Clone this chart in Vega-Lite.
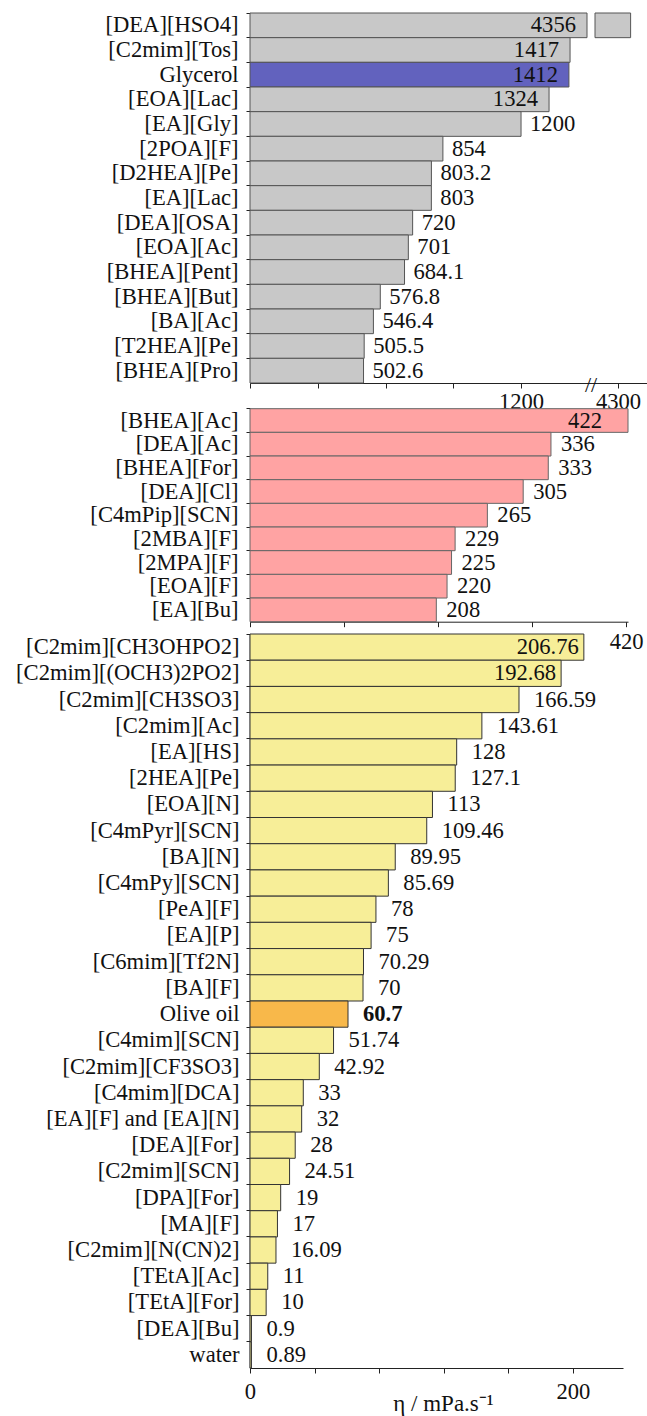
{
  "$schema": "https://vega.github.io/schema/vega-lite/v6.json",
  "background": "white",
  "autosize": {"type": "pad"},
  "padding": {"left": 15, "top": 12, "right": 0, "bottom": 0},
  "bounds": "flush",
  "spacing": 12,
  "config": {
    "view": {"stroke": null},
    "font": "Times New Roman, Liberation Serif, serif",
    "axis": {"labelFont": "Times New Roman, Liberation Serif, serif", "labelFontSize": 22.6, "labelColor": "#111", "tickColor": "#222", "domainColor": "#222", "titleFont": "Times New Roman, Liberation Serif, serif", "grid": false, "labelFlush": false, "labelOverlap": false, "labelLimit": 400},
    "text": {"font": "Times New Roman, Liberation Serif, serif", "fontSize": 22.6, "color": "#111", "baseline": "middle"}
  },
  "datasets": {
    "p1": [
      {"name": "[DEA][HSO4]", "value": 4356, "lo": 0, "hi": 1492},
      {"name": "[DEA][HSO4]", "value": 4356, "lo": 4198, "hi": 4356},
      {"name": "[C2mim][Tos]", "value": 1417, "lo": 0, "hi": 1417},
      {"name": "Glycerol", "value": 1412, "lo": 0, "hi": 1412},
      {"name": "[EOA][Lac]", "value": 1324, "lo": 0, "hi": 1324},
      {"name": "[EA][Gly]", "value": 1200, "lo": 0, "hi": 1200},
      {"name": "[2POA][F]", "value": 854, "lo": 0, "hi": 854},
      {"name": "[D2HEA][Pe]", "value": 803.2, "lo": 0, "hi": 803.2},
      {"name": "[EA][Lac]", "value": 803, "lo": 0, "hi": 803},
      {"name": "[DEA][OSA]", "value": 720, "lo": 0, "hi": 720},
      {"name": "[EOA][Ac]", "value": 701, "lo": 0, "hi": 701},
      {"name": "[BHEA][Pent]", "value": 684.1, "lo": 0, "hi": 684.1},
      {"name": "[BHEA][But]", "value": 576.8, "lo": 0, "hi": 576.8},
      {"name": "[BA][Ac]", "value": 546.4, "lo": 0, "hi": 546.4},
      {"name": "[T2HEA][Pe]", "value": 505.5, "lo": 0, "hi": 505.5},
      {"name": "[BHEA][Pro]", "value": 502.6, "lo": 0, "hi": 502.6}
    ],
    "p2": [
      {"name": "[BHEA][Ac]", "value": 422},
      {"name": "[DEA][Ac]", "value": 336},
      {"name": "[BHEA][For]", "value": 333},
      {"name": "[DEA][Cl]", "value": 305},
      {"name": "[C4mPip][SCN]", "value": 265},
      {"name": "[2MBA][F]", "value": 229},
      {"name": "[2MPA][F]", "value": 225},
      {"name": "[EOA][F]", "value": 220},
      {"name": "[EA][Bu]", "value": 208}
    ],
    "p3": [
      {"name": "[C2mim][CH3OHPO2]", "value": 206.76},
      {"name": "[C2mim][(OCH3)2PO2]", "value": 192.68},
      {"name": "[C2mim][CH3SO3]", "value": 166.59},
      {"name": "[C2mim][Ac]", "value": 143.61},
      {"name": "[EA][HS]", "value": 128},
      {"name": "[2HEA][Pe]", "value": 127.1},
      {"name": "[EOA][N]", "value": 113},
      {"name": "[C4mPyr][SCN]", "value": 109.46},
      {"name": "[BA][N]", "value": 89.95},
      {"name": "[C4mPy][SCN]", "value": 85.69},
      {"name": "[PeA][F]", "value": 78},
      {"name": "[EA][P]", "value": 75},
      {"name": "[C6mim][Tf2N]", "value": 70.29},
      {"name": "[BA][F]", "value": 70},
      {"name": "Olive oil", "value": 60.7},
      {"name": "[C4mim][SCN]", "value": 51.74},
      {"name": "[C2mim][CF3SO3]", "value": 42.92},
      {"name": "[C4mim][DCA]", "value": 33},
      {"name": "[EA][F] and [EA][N]", "value": 32},
      {"name": "[DEA][For]", "value": 28},
      {"name": "[C2mim][SCN]", "value": 24.51},
      {"name": "[DPA][For]", "value": 19},
      {"name": "[MA][F]", "value": 17},
      {"name": "[C2mim][N(CN)2]", "value": 16.09},
      {"name": "[TEtA][Ac]", "value": 11},
      {"name": "[TEtA][For]", "value": 10},
      {"name": "[DEA][Bu]", "value": 0.9},
      {"name": "water", "value": 0.89}
    ]
  },
  "vconcat": [
    {
      "width": 400,
      "height": 370,
      "data": {"name": "p1"},
      "layer": [
        {
          "mark": {"type": "bar", "stroke": "#555", "strokeWidth": 1},
          "encoding": {
            "y": {"field": "name", "type": "nominal", "sort": null, "scale": {"paddingInner": 0, "paddingOuter": 0}, "axis": {"title": null, "bandPosition": 0, "tickSize": 4, "labelPadding": 8}},
            "x": {"field": "lo", "type": "quantitative", "scale": {"domain": [0, 1492, 4198, 4442], "range": [0, 337, 345, 400], "nice": false, "zero": false}, "axis": {"title": null, "values": [0, 300, 600, 900, 1200, 4300], "format": "d", "labelExpr": "(datum.value == 1200 || datum.value == 4300) ? datum.label : ''", "tickSize": 5, "labelPadding": 2}},
            "x2": {"field": "hi"},
            "color": {"condition": {"test": "datum.name === 'Glycerol'", "value": "#6262BE"}, "value": "#C8C8C8"}
          }
        },
        {
          "transform": [{"filter": "datum.lo == 0 && datum.value < 1300"}],
          "mark": {"type": "text", "align": "left", "dx": 9},
          "encoding": {
            "y": {"field": "name", "type": "nominal", "sort": null},
            "x": {"field": "hi", "type": "quantitative"},
            "text": {"field": "value", "type": "nominal"}
          }
        },
        {
          "transform": [{"filter": "datum.lo == 0 && datum.value >= 1300"}],
          "mark": {"type": "text", "align": "right", "dx": -11},
          "encoding": {
            "y": {"field": "name", "type": "nominal", "sort": null},
            "x": {"field": "hi", "type": "quantitative"},
            "text": {"field": "value", "type": "nominal"}
          }
        },
        {
          "data": {"values": [{}]},
          "mark": {"type": "text", "fontSize": 22, "align": "center", "dy": 2},
          "encoding": {
            "x": {"datum": 2845, "type": "quantitative"},
            "y": {"datum": "[BHEA][Pro]", "type": "nominal", "bandPosition": 1},
            "text": {"value": "//"}
          }
        }
      ]
    },
    {
      "width": 378,
      "height": 226.7,
      "data": {"name": "p2"},
      "layer": [
        {
          "mark": {"type": "bar", "stroke": "#666", "strokeWidth": 1, "color": "#FFA3A3"},
          "encoding": {
            "y": {"field": "name", "type": "nominal", "sort": null, "scale": {"paddingInner": 0, "paddingOuter": 0.289, "align": 1}, "axis": {"title": null, "bandPosition": 0, "tickSize": 4, "labelPadding": 8, "domain": false}},
            "x": {"field": "value", "type": "quantitative", "scale": {"domain": [0, 422], "nice": false}, "axis": {"title": null, "values": [0, 105, 210, 315, 420], "format": "d", "labelExpr": "datum.value == 420 ? datum.label : ''", "tickSize": 5, "labelPadding": 4}}
          }
        },
        {
          "transform": [{"filter": "datum.value < 400"}],
          "mark": {"type": "text", "align": "left", "dx": 10},
          "encoding": {
            "y": {"field": "name", "type": "nominal", "sort": null},
            "x": {"field": "value", "type": "quantitative"},
            "text": {"field": "value", "type": "nominal"}
          }
        },
        {
          "transform": [{"filter": "datum.value >= 400"}],
          "mark": {"type": "text", "align": "right", "dx": -26},
          "encoding": {
            "y": {"field": "name", "type": "nominal", "sort": null},
            "x": {"field": "value", "type": "quantitative"},
            "text": {"field": "value", "type": "nominal"}
          }
        }
      ]
    },
    {
      "width": 373,
      "height": 734,
      "data": {"name": "p3"},
      "layer": [
        {
          "mark": {"type": "bar", "stroke": "#333", "strokeWidth": 1},
          "encoding": {
            "y": {"field": "name", "type": "nominal", "sort": null, "scale": {"paddingInner": 0, "paddingOuter": 0}, "axis": {"title": null, "bandPosition": 0, "tickSize": 4, "labelPadding": 7, "domainWidth": 1.5}},
            "x": {"field": "value", "type": "quantitative", "scale": {"domain": [0, 231], "nice": false}, "axis": {"title": "η / mPa.s⁻¹", "titleFontSize": 23, "titleFontWeight": "normal", "titleColor": "#111", "titlePadding": -10, "titleX": 193, "values": [0, 40, 80, 120, 160, 200], "format": "d", "labelExpr": "(datum.value == 0 || datum.value == 200) ? datum.label : ''", "tickSize": 5, "labelPadding": 7}},
            "color": {"condition": {"test": "datum.name === 'Olive oil'", "value": "#F8B84A"}, "value": "#F7EE98"}
          }
        },
        {
          "transform": [{"filter": "datum.value < 190 && datum.name !== 'Olive oil'"}],
          "mark": {"type": "text", "align": "left", "dx": 15},
          "encoding": {
            "y": {"field": "name", "type": "nominal", "sort": null},
            "x": {"field": "value", "type": "quantitative"},
            "text": {"field": "value", "type": "nominal"}
          }
        },
        {
          "transform": [{"filter": "datum.name === 'Olive oil'"}],
          "mark": {"type": "text", "align": "left", "dx": 15, "fontWeight": "bold"},
          "encoding": {
            "y": {"field": "name", "type": "nominal", "sort": null},
            "x": {"field": "value", "type": "quantitative"},
            "text": {"field": "value", "type": "nominal"}
          }
        },
        {
          "transform": [{"filter": "datum.value >= 190"}],
          "mark": {"type": "text", "align": "right", "dx": -5},
          "encoding": {
            "y": {"field": "name", "type": "nominal", "sort": null},
            "x": {"field": "value", "type": "quantitative"},
            "text": {"field": "value", "type": "nominal"}
          }
        }
      ]
    }
  ]
}
